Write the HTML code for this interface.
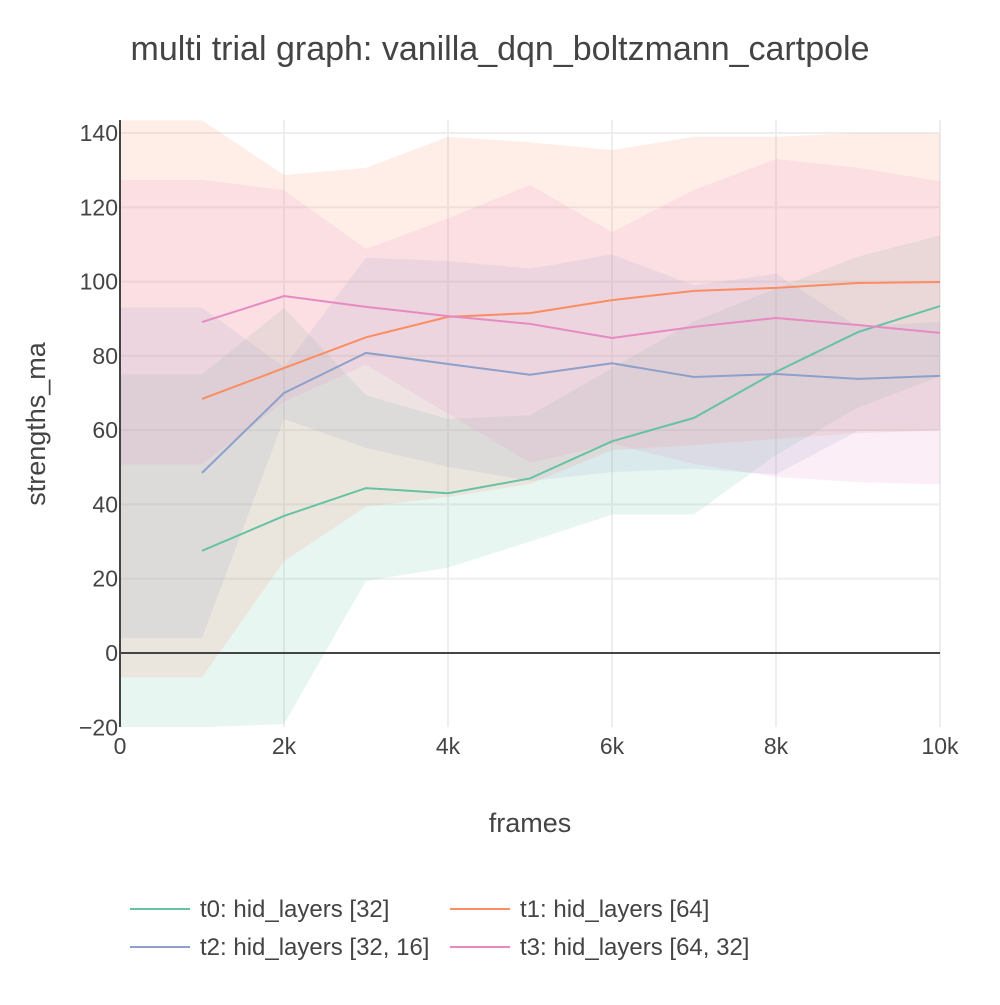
<!DOCTYPE html>
<html><head><meta charset="utf-8"><style>
body{margin:0;background:#fff}
svg text{font-family:"Liberation Sans",sans-serif;fill:#444}
</style></head><body>
<svg id="chart" width="1000" height="1000" xmlns="http://www.w3.org/2000/svg">
<text x="500" y="60" font-size="34" text-anchor="middle">multi trial graph: vanilla_dqn_boltzmann_cartpole</text>
<g id="grid"></g>
<defs><clipPath id="clip"><rect x="120" y="120" width="820" height="607"/></clipPath></defs>
<g id="bands" clip-path="url(#clip)"></g>
<g id="lines" clip-path="url(#clip)"></g>
<g id="axes"></g>
<text x="530" y="832" font-size="27" text-anchor="middle">frames</text>
<text transform="translate(45,424) rotate(-90)" font-size="27" text-anchor="middle">strengths_ma</text>
<g id="legend"></g>
</svg>
<script>
const frames=[1000,2000,3000,4000,5000,6000,7000,8000,9000,10000];
const seriesNames=["t0: hid_layers [32]","t1: hid_layers [64]","t2: hid_layers [32, 16]","t3: hid_layers [64, 32]"];
const t0Mean=[27.5,36.9,44.4,43,47,57,63.3,75.7,86.4,93.4];
const t0Std=[47.5,56,25,20,17,19.7,26,22.4,20.3,19];
const t1Mean=[68.4,76.7,85,90.5,91.5,95,97.5,98.3,99.6,99.9];
const t1Std=[75,52,45.6,48.5,46,40.4,41.5,40.7,40.4,40];
const t2Mean=[48.5,70,80.8,77.8,74.9,78,74.3,75.1,73.8,74.6];
const t2Std=[44.5,7,25.6,27.7,28.6,29.3,24.7,27,14,14.6];
const t3Mean=[89.1,96.1,93.2,90.7,88.6,84.8,87.8,90.2,88.3,86.2];
const t3Std=[38.3,28.5,15.6,26.3,37.4,28.5,36.9,42.8,42.3,40.8];
const xTicks=[0,2000,4000,6000,8000,10000];
const xTickLabels=["0","2k","4k","6k","8k","10k"];
const yTicks=[-20,0,20,40,60,80,100,120,140];
const yTickLabels=["−20","0","20","40","60","80","100","120","140"];
const colors=["#66c2a5","#fc8d62","#8da0cb","#e78ac3"];
const means=[t0Mean,t1Mean,t2Mean,t3Mean], stds=[t0Std,t1Std,t2Std,t3Std];
const NS="http://www.w3.org/2000/svg";
const X=v=>120+v*0.082, Y=v=>653-v*(520/140);
function mk(tag,attrs,parent){const e=document.createElementNS(NS,tag);for(const k in attrs)e.setAttribute(k,attrs[k]);parent.appendChild(e);return e;}
const grid=document.getElementById('grid'),axes=document.getElementById('axes');
xTicks.forEach((t,i)=>{
 if(t>0){const l=mk('line',{x1:X(t),x2:X(t),y1:120,y2:727,stroke:'#eee','stroke-width':2},grid);
 
 }
 const tx=mk('text',{x:X(t),y:754,'font-size':23,'text-anchor':'middle'},axes);tx.textContent=xTickLabels[i];
 
 
});
yTicks.forEach((t,i)=>{
 if(t!==0&&t!==-20){const l=mk('line',{x1:120,x2:940,y1:Y(t),y2:Y(t),stroke:'#eee','stroke-width':2},grid);
 
 }
 const tx=mk('text',{x:118,y:Y(t)+8,'font-size':23,'text-anchor':'end'},axes);tx.textContent=yTickLabels[i];
 
 
});
const zl=mk('line',{x1:120,x2:940,y1:Y(0),y2:Y(0),stroke:'#444','stroke-width':2},axes);


const ya=mk('line',{x1:120,x2:120,y1:120,y2:727,stroke:'#444','stroke-width':2},axes);


const bands=document.getElementById('bands'),lines=document.getElementById('lines');
means.forEach((m,s)=>{
 const sd=stds[s];
 const xs=[0].concat(frames), up=[m[0]+sd[0]].concat(m.map((v,i)=>v+sd[i])), lo=[m[0]-sd[0]].concat(m.map((v,i)=>v-sd[i]));
 let d='M'+xs.map((x,i)=>X(x)+','+Y(up[i])).join('L');
 for(let i=xs.length-1;i>=0;i--)d+='L'+X(xs[i])+','+Y(lo[i]);
 const b=mk('path',{d:d+'Z',fill:colors[s],'fill-opacity':0.15,stroke:'none'},bands);
 
 
});
means.forEach((m,s)=>{
 const p=mk('polyline',{points:frames.map((x,i)=>X(x)+','+Y(m[i])).join(' '),fill:'none',stroke:colors[s],'stroke-width':2},lines);
 
 
});
const lg=document.getElementById('legend');
const lpos=[[130,909],[450,909],[130,947],[450,947]];
seriesNames.forEach((n,i)=>{
 const g=mk('g',{},lg);
 
 
 mk('line',{x1:lpos[i][0],x2:lpos[i][0]+60,y1:lpos[i][1],y2:lpos[i][1],stroke:colors[i],'stroke-width':2},g);
 const t=mk('text',{x:lpos[i][0]+70,y:lpos[i][1]+8,'font-size':24},g);t.textContent=n;
});
</script>
</body></html>
